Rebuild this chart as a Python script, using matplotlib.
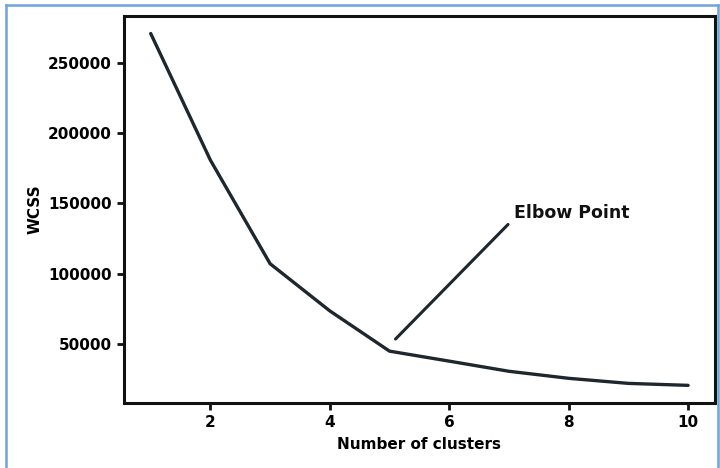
import matplotlib.pyplot as plt
from matplotlib.lines import Line2D

# Elbow curve data
clusters = [1, 2, 3, 4, 5, 6, 7, 8, 9, 10]
wcss = [270700, 180700, 107100, 73600, 45000, 37900, 30700, 25700, 22100, 20700]

elbow_xy = (5.1, 53600)
elbow_text_xy = (7.08, 143000)

line_color = "#1e272d"

plt.rcParams["font.family"] = "DejaVu Sans"
plt.rcParams["font.weight"] = "bold"

fig = plt.figure(figsize=(7.2, 4.68), dpi=100)
ax = fig.add_axes([0.172, 0.139, 0.821, 0.827])

ax.plot(clusters, wcss, color=line_color, linewidth=2.4, solid_capstyle="round")

ax.annotate("Elbow Point", xy=elbow_xy, xytext=elbow_text_xy,
            fontsize=12.5, fontweight="bold", color="#111111",
            ha="left", va="center",
            arrowprops=dict(arrowstyle="-", color=line_color, lw=2.2,
                            relpos=(0, 0.2), shrinkA=3, shrinkB=0))

ax.set_xlabel("Number of clusters", fontsize=11, fontweight="bold", labelpad=5)
ax.set_ylabel("WCSS", fontsize=11, fontweight="bold")
ax.set_xticks([2, 4, 6, 8, 10])
ax.set_yticks([50000, 100000, 150000, 200000, 250000])
ax.tick_params(labelsize=11, width=2, length=5, color="#111111")
for lab in ax.get_xticklabels() + ax.get_yticklabels():
    lab.set_fontweight("bold")

for sp in ax.spines.values():
    sp.set_linewidth(2.2)
    sp.set_color("#111111")

# light blue frame around the picture
border = "#6fa3dc"
fig.add_artist(Line2D([6 / 720, 6 / 720], [0, 1 - 5 / 468], color=border, lw=1.8))
fig.add_artist(Line2D([6 / 720, 718 / 720], [1 - 5 / 468, 1 - 5 / 468], color=border, lw=1.8))
fig.add_artist(Line2D([718 / 720, 718 / 720], [0, 1 - 5 / 468], color=border, lw=1.8))

fig.savefig("out.png", dpi=100)
